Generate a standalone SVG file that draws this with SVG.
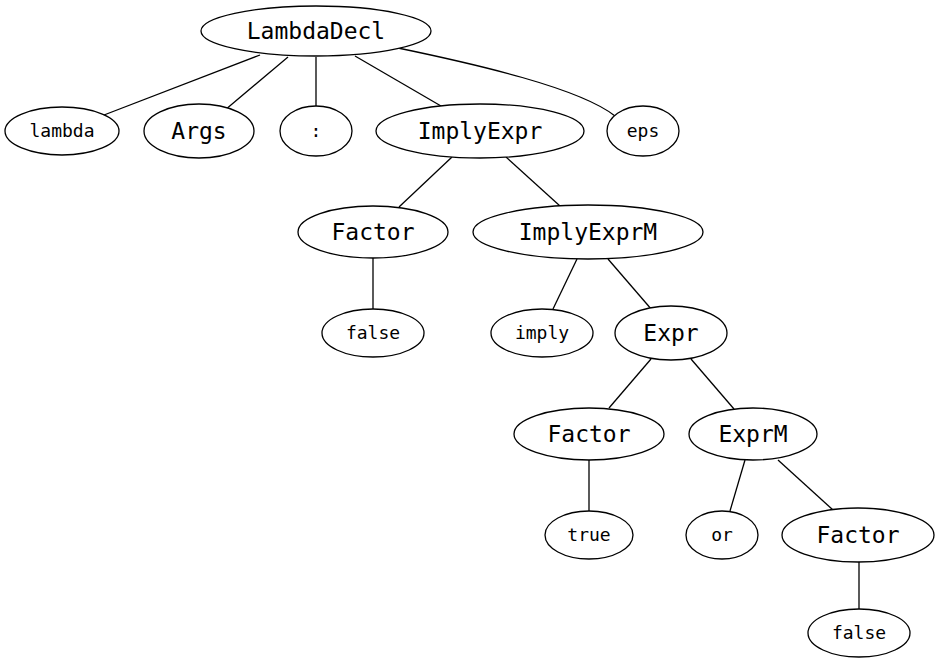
<svg xmlns="http://www.w3.org/2000/svg" width="939" height="663" viewBox="0 0 939 663">
<style>
ellipse{fill:#fff;stroke:#000;stroke-width:1.3}
.e line,.e path{stroke:#000;stroke-width:1.3;fill:none}
text{font-family:"DejaVu Sans Mono","Liberation Mono",monospace;text-anchor:middle;fill:#000}
.nt{font-size:23px}
.t{font-size:18px}
</style>
<rect width="939" height="663" fill="#fff"/>
<g class="e" id="edges">
<line x1="260" y1="55" x2="104" y2="115"/>
<line x1="288" y1="57" x2="225" y2="110"/>
<line x1="316" y1="57" x2="316" y2="106"/>
<line x1="355" y1="56" x2="441" y2="106"/>
<path d="M398,48 C475,64 580,88 615,116"/>
<line x1="452" y1="157" x2="399" y2="207"/>
<line x1="506" y1="157" x2="560" y2="206"/>
<line x1="373" y1="258" x2="373" y2="309"/>
<line x1="577" y1="259" x2="553" y2="309"/>
<line x1="608" y1="259" x2="652" y2="310"/>
<line x1="651" y1="359" x2="609" y2="408"/>
<line x1="691" y1="359" x2="734" y2="409"/>
<line x1="589" y1="460" x2="589" y2="511"/>
<line x1="745" y1="460" x2="730" y2="511"/>
<line x1="778" y1="460" x2="833" y2="510"/>
<line x1="859" y1="562" x2="859" y2="609"/>
</g>
<g id="n_lambdadecl"><ellipse cx="316" cy="31" rx="115" ry="25"/><text class="nt" x="316" y="39">LambdaDecl</text></g>
<g id="n_lambda"><ellipse cx="62" cy="131" rx="57" ry="24"/><text class="t" x="62" y="137">lambda</text></g>
<g id="n_args"><ellipse cx="199" cy="131" rx="55" ry="27"/><text class="nt" x="199" y="139">Args</text></g>
<g id="n_colon"><ellipse cx="316" cy="131" rx="36" ry="25"/><text class="t" x="316" y="137">:</text></g>
<g id="n_implyexpr"><ellipse cx="480" cy="131" rx="104" ry="27"/><text class="nt" x="480" y="139">ImplyExpr</text></g>
<g id="n_eps"><ellipse cx="643" cy="131" rx="36" ry="25"/><text class="t" x="643" y="137">eps</text></g>
<g id="n_factor1"><ellipse cx="373" cy="232" rx="75" ry="26"/><text class="nt" x="373" y="240">Factor</text></g>
<g id="n_implyexprm"><ellipse cx="588" cy="232" rx="115" ry="27"/><text class="nt" x="588" y="240">ImplyExprM</text></g>
<g id="n_false1"><ellipse cx="373" cy="333" rx="51" ry="24"/><text class="t" x="373" y="339">false</text></g>
<g id="n_imply"><ellipse cx="542" cy="333" rx="51" ry="24"/><text class="t" x="542" y="339">imply</text></g>
<g id="n_expr"><ellipse cx="671" cy="333" rx="56" ry="27"/><text class="nt" x="671" y="341">Expr</text></g>
<g id="n_factor2"><ellipse cx="589" cy="434" rx="75" ry="26"/><text class="nt" x="589" y="442">Factor</text></g>
<g id="n_exprm"><ellipse cx="753" cy="434" rx="64" ry="26"/><text class="nt" x="753" y="442">ExprM</text></g>
<g id="n_true"><ellipse cx="589" cy="535" rx="44" ry="24"/><text class="t" x="589" y="541">true</text></g>
<g id="n_or"><ellipse cx="722" cy="535" rx="36" ry="24"/><text class="t" x="722" y="541">or</text></g>
<g id="n_factor3"><ellipse cx="858" cy="535" rx="76" ry="27"/><text class="nt" x="858" y="543">Factor</text></g>
<g id="n_false2"><ellipse cx="859" cy="633" rx="51" ry="24"/><text class="t" x="859" y="639">false</text></g>
</svg>
